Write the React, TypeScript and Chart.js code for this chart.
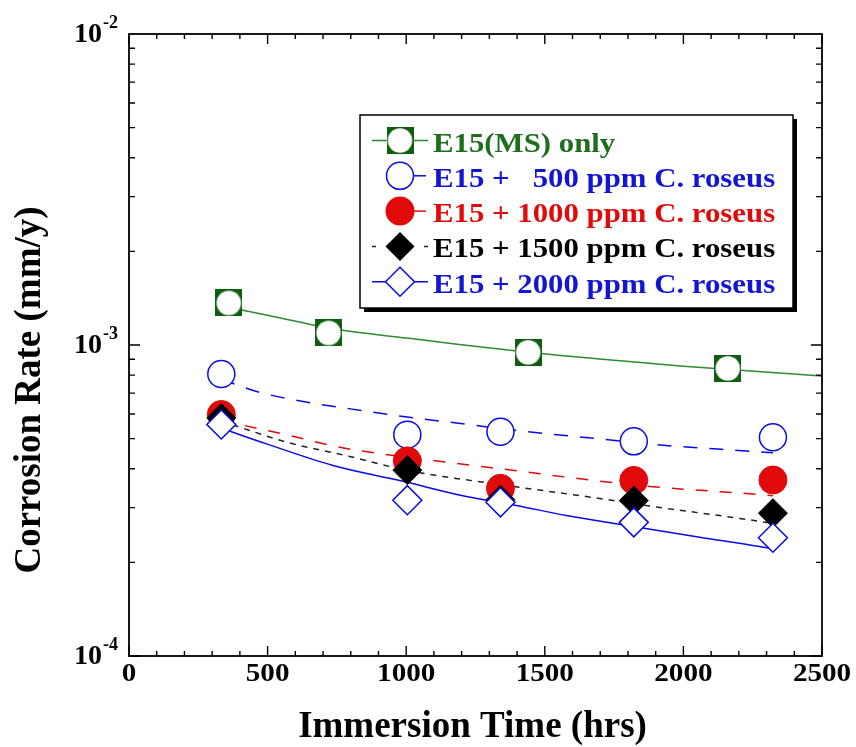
import { useEffect, useRef } from "react";
import { Chart, registerables } from "chart.js";

Chart.register(...registerables);

// ---- data ----
const timesGreen = [360, 720, 1440, 2160];
const rateGreen = [1.365e-3, 1.093e-3, 0.947e-3, 0.841e-3];

const timesC = [333, 1004, 1340, 1821, 2323];
const rate500 = [0.807e-3, 0.515e-3, 0.526e-3, 0.49e-3, 0.505e-3];
const rate1000 = [0.598e-3, 0.424e-3, 0.346e-3, 0.367e-3, 0.368e-3];
const rate1500 = [0.583e-3, 0.396e-3, 0.318e-3, 0.316e-3, 0.288e-3];
const rate2000 = [0.555e-3, 0.317e-3, 0.312e-3, 0.269e-3, 0.24e-3];

// trend lines
const fitGreenX = [360, 500, 750, 1000, 1440, 2000, 2500];
const fitGreenY = [1.322e-3, 1.247e-3, 1.123e-3, 1.053e-3, 0.947e-3, 0.855e-3, 0.795e-3];
const fit500X = [333, 381, 471, 880, 1253, 1397, 1698, 1903, 2245, 2323];
const fit500Y = [0.775e-3, 0.749e-3, 0.704e-3, 0.608e-3, 0.551e-3, 0.531e-3, 0.499e-3, 0.478e-3, 0.455e-3, 0.45e-3];
const fit1000X = [333, 387, 580, 760, 1145, 1409, 1578, 1878, 2263, 2323];
const fit1000Y = [0.571e-3, 0.558e-3, 0.5115e-3, 0.469e-3, 0.42e-3, 0.393e-3, 0.376e-3, 0.351e-3, 0.331e-3, 0.3275e-3];
const fit1500X = [333, 392, 569, 796, 1005, 1337, 1698, 1878, 2203, 2323];
const fit1500Y = [0.569e-3, 0.547e-3, 0.487e-3, 0.438e-3, 0.395e-3, 0.356e-3, 0.321e-3, 0.3035e-3, 0.277e-3, 0.2668e-3];
const fit2000X = [333, 375, 496, 736, 977, 1217, 1397, 1578, 1758, 2059, 2275, 2323];
const fit2000Y = [0.54e-3, 0.524e-3, 0.481e-3, 0.41e-3, 0.3665e-3, 0.3257e-3, 0.3048e-3, 0.283e-3, 0.266e-3, 0.241e-3, 0.225e-3, 0.221e-3];

const xTickLabels = [0, 500, 1000, 1500, 2000, 2500];
const yTickExponents = [-4, -3, -2];
const legendLabels = [
  "E15(MS) only",
  "E15 +   500 ppm C. roseus",
  "E15 + 1000 ppm C. roseus",
  "E15 + 1500 ppm C. roseus",
  "E15 + 2000 ppm C. roseus",
];
const xTitle = "Immersion Time (hrs)";
const yTitle = "Corrosion Rate (mm/y)";

// ---- styles ----
const GREEN_MARK = "#0d5f0d";
const GREEN_LINE = "#2e8b2e";
const GREEN_TEXT = "#1e6e1e";
const BLUE = "#0a0ae6";
const BLUE_TEXT = "#1414d4";
const RED = "#e00a0a";
const BLACK = "#000000";
const FONT = '"Liberation Serif", "Times New Roman", serif';

const pts = (xs: number[], ys: number[]) => xs.map((x, i) => ({ x, y: ys[i] }));

function makeGreenSquare(): HTMLCanvasElement {
  const c = document.createElement("canvas");
  c.width = 27;
  c.height = 27;
  const g = c.getContext("2d")!;
  g.fillStyle = GREEN_MARK;
  g.fillRect(0, 0, 27, 27);
  g.fillStyle = "#ffffff";
  g.beginPath();
  g.arc(13.5, 13.5, 12.2, 0, Math.PI * 2);
  g.fill();
  return c;
}

function stretchedText(ctx: CanvasRenderingContext2D, text: string, x: number, y: number, align: CanvasTextAlign, sx: number) {
  ctx.save();
  ctx.translate(x, y);
  ctx.scale(sx, 1);
  ctx.textAlign = align;
  ctx.textBaseline = "alphabetic";
  ctx.fillText(text, 0, 0);
  ctx.restore();
}

export default function App() {
  const ref = useRef<HTMLCanvasElement | null>(null);

  useEffect(() => {
    if (!ref.current) return;
    const greenSquare = makeGreenSquare();

    const drawMarker = (ctx: CanvasRenderingContext2D, kind: string, cx: number, cy: number) => {
      ctx.save();
      if (kind === "greenSquare") {
        ctx.drawImage(greenSquare, cx - 13.5, cy - 13.5);
      } else if (kind === "openCircle") {
        ctx.beginPath();
        ctx.arc(cx, cy, 13.5, 0, Math.PI * 2);
        ctx.fillStyle = "#fff";
        ctx.fill();
        ctx.lineWidth = 1.5;
        ctx.strokeStyle = BLUE;
        ctx.stroke();
      } else if (kind === "redCircle") {
        ctx.beginPath();
        ctx.arc(cx, cy, 14.5, 0, Math.PI * 2);
        ctx.fillStyle = RED;
        ctx.fill();
      } else {
        const r = 14.5;
        ctx.beginPath();
        ctx.moveTo(cx - r, cy);
        ctx.lineTo(cx, cy - r);
        ctx.lineTo(cx + r, cy);
        ctx.lineTo(cx, cy + r);
        ctx.closePath();
        if (kind === "blackDiamond") {
          ctx.fillStyle = BLACK;
          ctx.fill();
        } else {
          ctx.fillStyle = "#fff";
          ctx.fill();
          ctx.lineWidth = 1.5;
          ctx.strokeStyle = BLUE;
          ctx.stroke();
        }
      }
      ctx.restore();
    };

    const decorations = {
      id: "decorations",
      afterDraw(chart: any) {
        const ctx: CanvasRenderingContext2D = chart.ctx;
        const { left, right, top, bottom } = chart.chartArea;
        const xs = chart.scales.x;
        const ys = chart.scales.y;
        ctx.save();
        // frame
        ctx.strokeStyle = "#000";
        ctx.lineWidth = 1.8;
        ctx.strokeRect(left, top, right - left, bottom - top);
        // x ticks
        ctx.lineWidth = 1.4;
        ctx.beginPath();
        for (let v = 0; v <= 2500; v += 100) {
          const px = xs.getPixelForValue(v);
          const len = v % 500 === 0 ? 10 : 5;
          ctx.moveTo(px, bottom);
          ctx.lineTo(px, bottom - len);
          ctx.moveTo(px, top);
          ctx.lineTo(px, top + len);
        }
        // y ticks
        for (let e = -4; e < -2; e++) {
          for (let m = 1; m <= 9; m++) {
            const v = m * Math.pow(10, e);
            const py = ys.getPixelForValue(v);
            const len = m === 1 ? 11 : 6;
            ctx.moveTo(left, py);
            ctx.lineTo(left + len, py);
            ctx.moveTo(right, py);
            ctx.lineTo(right - len, py);
          }
        }
        ctx.stroke();

        // x tick labels
        ctx.fillStyle = "#000";
        ctx.font = `bold 26px ${FONT}`;
        xTickLabels.forEach((v) => {
          stretchedText(ctx, String(v), xs.getPixelForValue(v), 681, "center", 1.12);
        });
        // y tick labels
        yTickExponents.forEach((e) => {
          const py = ys.getPixelForValue(Math.pow(10, e));
          ctx.font = `bold 28px ${FONT}`;
          stretchedText(ctx, "10", 102, py + 8, "right", 1);
          ctx.font = `bold 18px ${FONT}`;
          stretchedText(ctx, String(e), 103, py - 6, "left", 1);
        });
        // titles
        ctx.font = `bold 37px ${FONT}`;
        stretchedText(ctx, xTitle, (left + right) / 2 - 3, 737, "center", 1);
        ctx.save();
        ctx.translate(40, 390);
        ctx.rotate(-Math.PI / 2);
        ctx.textAlign = "center";
        ctx.textBaseline = "alphabetic";
        ctx.fillText(yTitle, 0, 0);
        ctx.restore();

        // legend box
        const bx = 360, by = 115, bw = 433, bh = 193;
        ctx.fillStyle = "#000";
        ctx.fillRect(bx + 4, by + 4, bw, bh);
        ctx.fillStyle = "#fff";
        ctx.fillRect(bx, by, bw, bh);
        ctx.lineWidth = 1.5;
        ctx.strokeStyle = "#000";
        ctx.strokeRect(bx, by, bw, bh);

        const rows = [
          { kind: "greenSquare", color: GREEN_LINE, text: GREEN_TEXT, segs: [[372, 428]] },
          { kind: "openCircle", color: BLUE, text: BLUE_TEXT, segs: [[413, 426]] },
          { kind: "redCircle", color: RED, text: RED, segs: [[413, 426]] },
          { kind: "blackDiamond", color: "#222", text: BLACK, segs: [[372, 376], [424, 428]] },
          { kind: "openDiamond", color: BLUE, text: BLUE_TEXT, segs: [[372, 428]] },
        ];
        rows.forEach((row, i) => {
          const cy = 140.5 + i * 35.3;
          ctx.strokeStyle = row.color;
          ctx.lineWidth = 1.5;
          ctx.beginPath();
          row.segs.forEach(([a, b]) => {
            ctx.moveTo(a, cy);
            ctx.lineTo(b, cy);
          });
          ctx.stroke();
          drawMarker(ctx, row.kind, 400, cy);
          ctx.fillStyle = row.text;
          ctx.font = `bold 28px ${FONT}`;
          stretchedText(ctx, legendLabels[i], 433, cy + 11, "left", 1.1);
        });
        ctx.restore();
      },
    };

    const fitLine = (xsArr: number[], ysArr: number[], color: string, dash: number[]) => ({
      type: "line" as const,
      data: pts(xsArr, ysArr),
      borderColor: color,
      borderWidth: 1.5,
      borderDash: dash,
      pointRadius: 0,
      fill: false,
      cubicInterpolationMode: "monotone" as const,
      order: 20,
    });

    const markers = (xsArr: number[], ysArr: number[], style: any, bg: string, border: string, bw: number, order: number) => ({
      type: "line" as const,
      data: pts(xsArr, ysArr),
      showLine: false,
      pointStyle: style,
      pointRadius: style === "rectRot" ? 14.5 : 14,
      pointBackgroundColor: bg,
      pointBorderColor: border,
      pointBorderWidth: bw,
      order,
    });

    const chart = new Chart(ref.current, {
      type: "line",
      data: {
        datasets: [
          fitLine(fitGreenX, fitGreenY, GREEN_LINE, []),
          fitLine(fit500X, fit500Y, BLUE, [14, 12]),
          fitLine(fit1000X, fit1000Y, RED, [12, 12]),
          fitLine(fit1500X, fit1500Y, "#222", [6, 6]),
          fitLine(fit2000X, fit2000Y, BLUE, []),
          markers(timesGreen, rateGreen, greenSquare, GREEN_MARK, GREEN_MARK, 0, 9),
          { ...markers(timesC, rate500, "circle", "#ffffff", BLUE, 1.5, 8), pointRadius: 13.5 },
          markers(timesC, rate1000, "circle", RED, RED, 1, 7),
          markers(timesC, rate1500, "rectRot", BLACK, BLACK, 1, 6),
          markers(timesC, rate2000, "rectRot", "#ffffff", BLUE, 1.5, 5),
        ] as any,
      },
      options: {
        responsive: false,
        animation: false,
        events: [],
        layout: { padding: { left: 129, right: 34, top: 34, bottom: 91 } },
        plugins: { legend: { display: false }, tooltip: { enabled: false } },
        scales: {
          x: { type: "linear", min: 0, max: 2500, display: false },
          y: { type: "logarithmic", min: 1e-4, max: 1e-2, display: false },
        },
      },
      plugins: [decorations],
    });
    return () => chart.destroy();
  }, []);

  return (
    <div style={{ position: "absolute", left: 0, top: 0, width: 856, height: 747, background: "#fff" }}>
      <canvas ref={ref} width={856} height={747} style={{ display: "block" }} />
    </div>
  );
}
